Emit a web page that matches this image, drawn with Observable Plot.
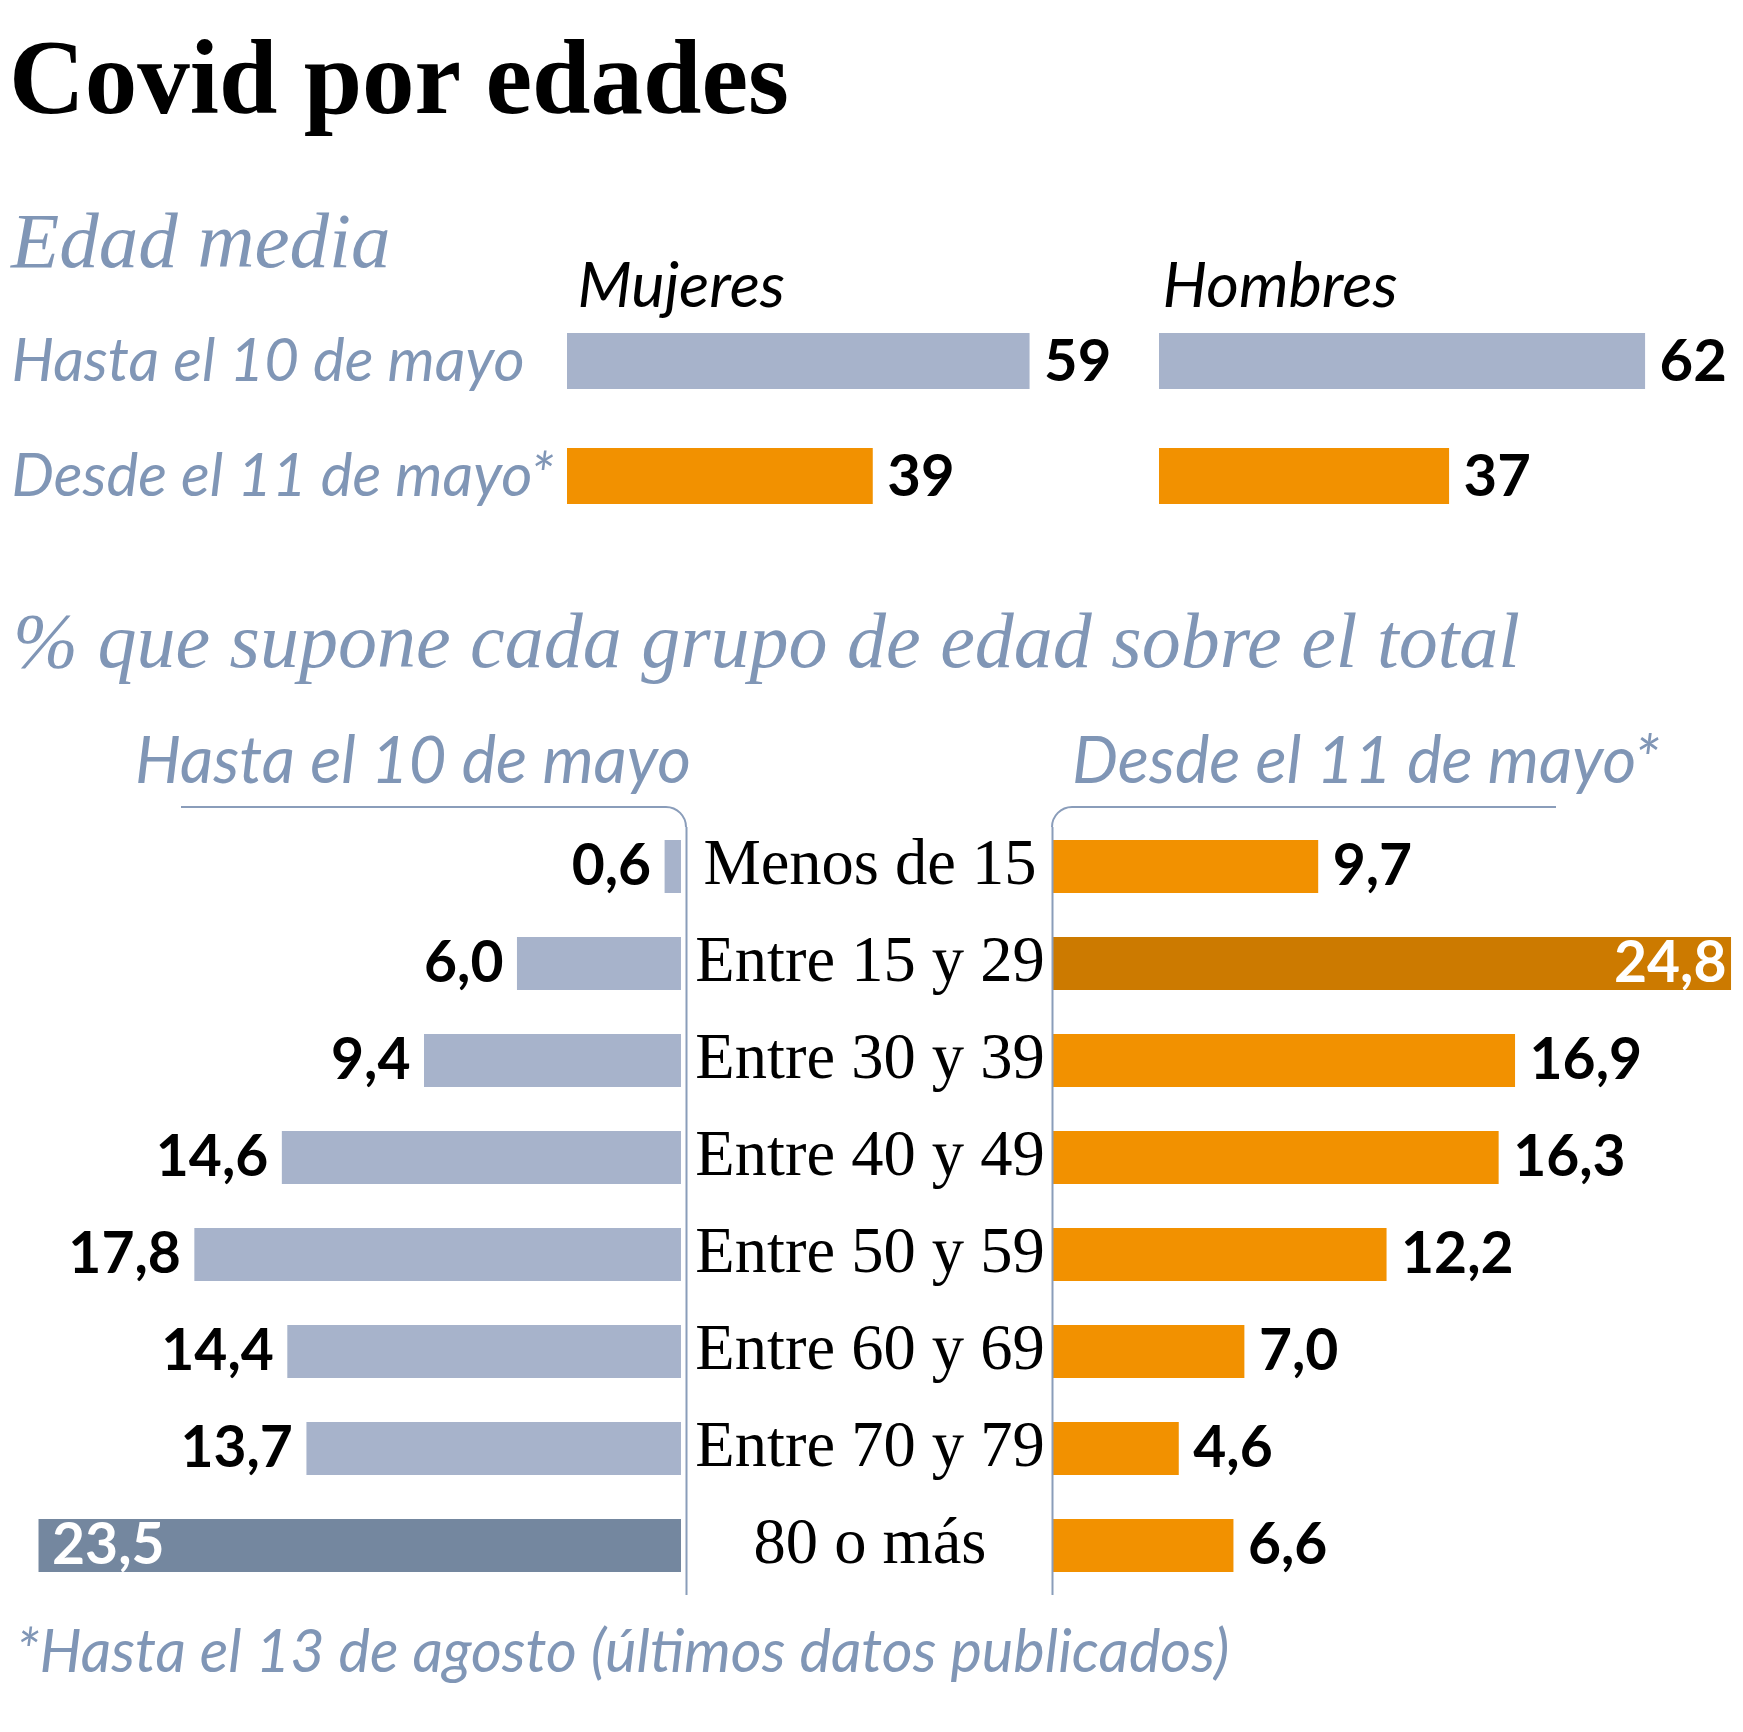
<!DOCTYPE html>
<html>
<head>
<meta charset="utf-8">
<script src="https://cdn.jsdelivr.net/npm/d3@7"></script>
<script src="https://cdn.jsdelivr.net/npm/@observablehq/plot@0.6"></script>
<style>
  body { margin: 0; background: #fff; }
  #page { position: relative; width: 1743px; height: 1732px; overflow: hidden; background: #fff; }
  .t { position: absolute; white-space: nowrap; line-height: 1; margin: 0; }
  .box { position: absolute; }
</style>
</head>
<body>
<div id="page"></div>
<script>
// ---- Edad media (años) ----
const periodos = ["Hasta el 10 de mayo", "Desde el 11 de mayo*"];
const edadMujeres = [59, 39];
const edadHombres = [62, 37];

// ---- % de casos por grupo de edad ----
const grupos = ["Menos de 15", "Entre 15 y 29", "Entre 30 y 39", "Entre 40 y 49",
                "Entre 50 y 59", "Entre 60 y 69", "Entre 70 y 79", "80 o más"];
const pctHasta = [0.6, 6.0, 9.4, 14.6, 17.8, 14.4, 13.7, 23.5];
const pctDesde = [9.7, 24.8, 16.9, 16.3, 12.2, 7.0, 4.6, 6.6];

// ---- estilo ----
const COL = {
  slate: "#a7b3cb", slateDark: "#74879f",
  orange: "#f29100", orangeDark: "#cc7a00",
  label: "#8096b6", rule: "#8a9dba"
};
const SANS = "Lato, 'Open Sans', sans-serif";
const SERIF = "'Liberation Serif', 'Times New Roman', serif";
const fmt = v => d3.format(".1f")(v).replace(".", ",");

const page = document.getElementById("page");

// text placed by its baseline
function addText(txt, {left, baseline, size, family, weight = 400, style = "normal", color = "#000"}) {
  const asc = family === SERIF ? 0.8375 : 0.887;
  const d = document.createElement("div");
  d.className = "t";
  d.textContent = txt;
  Object.assign(d.style, {
    left: left + "px", top: (baseline - asc * size) + "px", fontSize: size + "px",
    fontFamily: family, fontWeight: weight, fontStyle: style, color
  });
  page.appendChild(d);
}
function place(svg, left, top) {
  const wrap = document.createElement("div");
  wrap.className = "box";
  wrap.style.left = left + "px";
  wrap.style.top = top + "px";
  wrap.appendChild(svg);
  page.appendChild(wrap);
}

addText("Covid por edades", {left: 9, baseline: 113, size: 105, family: SERIF, weight: 700});
addText("Edad media", {left: 11, baseline: 267, size: 79, family: SERIF, style: "italic", color: COL.label});

// ---- bloque superior: edad media por sexo ----
const PX_EDAD = 7.84;
function edadPlot(sexo, valores, {width, x0, sexoDx, rowLabels}) {
  const rows = periodos.map((p, i) => ({periodo: p, valor: valores[i]}));
  const marks = [
    Plot.barX(rows, {x: "valor", y: "periodo", fill: "periodo"}),
    Plot.text(rows, {x: "valor", y: "periodo", text: d => String(d.valor), textAnchor: "start",
      dx: 14, dy: 1, fontSize: 58, fontWeight: 700, fill: "#000", fontFamily: SANS}),
    Plot.text([sexo], {frameAnchor: "top-left", lineAnchor: "middle", text: d => d, textAnchor: "start",
      dx: sexoDx, dy: 36, fontSize: 63, fontStyle: "italic", fill: "#000", fontFamily: SANS})
  ];
  if (rowLabels) {
    marks.push(Plot.text(periodos, {y: d => d, text: d => d, frameAnchor: "left", lineAnchor: "middle",
      textAnchor: "start", dx: 11 - x0, dy: 0, fontSize: 60, fontStyle: "italic", fill: COL.label, fontFamily: SANS}));
  }
  return Plot.plot({
    width, height: 300, marginLeft: x0, marginRight: 0, marginTop: 0, marginBottom: 0,
    x: {domain: [0, 70], range: [x0, x0 + 70 * PX_EDAD], axis: null},
    y: {domain: periodos, range: [53.5, 283.5], paddingInner: 0.513, paddingOuter: 0.2565, axis: null},
    color: {domain: periodos, range: [COL.slate, COL.orange]},
    style: {background: "transparent", overflow: "visible", fontFamily: SANS},
    marks
  });
}
place(edadPlot("Mujeres", edadMujeres, {width: 1150, x0: 567, sexoDx: 10, rowLabels: true}), 0, 250);
place(edadPlot("Hombres", edadHombres, {width: 593, x0: 9, sexoDx: 3, rowLabels: false}), 1150, 250);

addText("% que supone cada grupo de edad sobre el total",
  {left: 13, baseline: 667, size: 78, family: SERIF, style: "italic", color: COL.label});
addText("Hasta el 10 de mayo", {left: 135, baseline: 784, size: 65, family: SANS, style: "italic", color: COL.label});
addText("Desde el 11 de mayo*", {left: 1072, baseline: 784, size: 65, family: SANS, style: "italic", color: COL.label});

// ---- bloque inferior: pirámide de porcentajes ----
const PX_PCT = 27.34;
const H = 920, TOP = 700, LINE_Y = 107, RADIUS = 20, LINE_END = 895;
const yOpts = {domain: grupos, range: [117.5, 894.5], paddingInner: 0.454, paddingOuter: 0.227, axis: null};
const VALUE_SIZE = 57;

function bracket(svg, d) {
  const p = document.createElementNS("http://www.w3.org/2000/svg", "path");
  p.setAttribute("d", d);
  p.setAttribute("fill", "none");
  p.setAttribute("stroke", COL.rule);
  p.setAttribute("stroke-width", 2);
  svg.appendChild(p);
}

// izquierda: hasta el 10 de mayo
{
  const rows = grupos.map((g, i) => ({grupo: g, valor: pctHasta[i]}));
  const maxV = d3.max(pctHasta);
  const base = 681, W = 700;
  const svg = Plot.plot({
    width: W, height: H, marginLeft: 0, marginRight: W - base,
    marginTop: LINE_Y + RADIUS, marginBottom: H - LINE_END,
    x: {domain: [0, 25], range: [base, base - 25 * PX_PCT], axis: null},
    y: yOpts,
    color: {domain: ["normal", "max"], range: [COL.slate, COL.slateDark]},
    style: {background: "transparent", overflow: "visible", fontFamily: SANS},
    marks: [
      Plot.barX(rows, {x: "valor", y: "grupo", fill: d => d.valor === maxV ? "max" : "normal"}),
      Plot.text(rows.filter(d => d.valor !== maxV), {x: "valor", y: "grupo", text: d => fmt(d.valor),
        textAnchor: "end", dx: -14, dy: 0, fontSize: VALUE_SIZE, fontWeight: 700, fill: "#000", fontFamily: SANS}),
      Plot.text(rows.filter(d => d.valor === maxV), {x: "valor", y: "grupo", text: d => fmt(d.valor),
        textAnchor: "start", dx: 13, dy: 0, fontSize: VALUE_SIZE, fontWeight: 700, fill: "#fff", fontFamily: SANS}),
      Plot.ruleX([0], {dx: 5, stroke: COL.rule, strokeWidth: 2})
    ]
  });
  const xr = base + 5;
  bracket(svg, `M181,${LINE_Y}H${xr - RADIUS}A${RADIUS},${RADIUS} 0 0 1 ${xr},${LINE_Y + RADIUS}`);
  place(svg, 0, TOP);
}

// derecha: desde el 11 de mayo, con las etiquetas de grupo en el centro
{
  const rows = grupos.map((g, i) => ({grupo: g, valor: pctDesde[i]}));
  const maxV = d3.max(pctDesde);
  const left = 700, base = 353, W = 1043;
  const svg = Plot.plot({
    width: W, height: H, marginLeft: base, marginRight: 0,
    marginTop: LINE_Y + RADIUS, marginBottom: H - LINE_END,
    x: {domain: [0, 25], range: [base, base + 25 * PX_PCT], axis: null},
    y: yOpts,
    color: {domain: ["normal", "max"], range: [COL.orange, COL.orangeDark]},
    style: {background: "transparent", overflow: "visible", fontFamily: SANS},
    marks: [
      Plot.barX(rows, {x: "valor", y: "grupo", fill: d => d.valor === maxV ? "max" : "normal"}),
      Plot.text(rows.filter(d => d.valor !== maxV), {x: "valor", y: "grupo", text: d => fmt(d.valor),
        textAnchor: "start", dx: 14, dy: 0, fontSize: VALUE_SIZE, fontWeight: 700, fill: "#000", fontFamily: SANS}),
      Plot.text(rows.filter(d => d.valor === maxV), {x: "valor", y: "grupo", text: d => fmt(d.valor),
        textAnchor: "end", dx: -5, dy: 0, fontSize: VALUE_SIZE, fontWeight: 700, fill: "#fff", fontFamily: SANS}),
      Plot.text(grupos, {y: d => d, text: d => d, frameAnchor: "left", lineAnchor: "middle", textAnchor: "middle",
        dx: 169.5 - base, dy: -4, fontSize: 64.5, fill: "#000", fontFamily: SERIF}),
      Plot.ruleX([0], {dx: -1, stroke: COL.rule, strokeWidth: 2})
    ]
  });
  const xl = base - 1;
  bracket(svg, `M${xl},${LINE_Y + RADIUS}A${RADIUS},${RADIUS} 0 0 1 ${xl + RADIUS},${LINE_Y}H856`);
  place(svg, left, TOP);
}

addText("*Hasta el 13 de agosto (últimos datos publicados)",
  {left: 16, baseline: 1673, size: 59.5, family: SANS, style: "italic", color: COL.label});
</script>
</body>
</html>
